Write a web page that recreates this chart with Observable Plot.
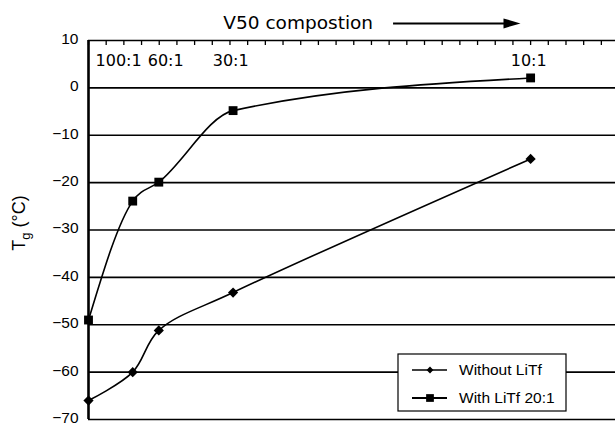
<!DOCTYPE html>
<html>
<head>
<meta charset="utf-8">
<script src="https://cdn.jsdelivr.net/npm/d3@7"></script>
<script src="https://cdn.jsdelivr.net/npm/@observablehq/plot@0.6"></script>
<style>
  body { margin: 0; background: #fff; }
  #chart svg { display: block; }
</style>
</head>
<body>
<div id="chart"></div>
<script>
// Salt content (LiTf per V50 unit) and glass transition temperatures
const saltRatio = [0, 0.01, 0.0159, 0.0327, 0.1];
const withoutLiTf = [-66, -60, -51.2, -43.2, -15];
const withLiTf = [-49, -23.9, -19.9, -4.8, 2.1];
const seriesNames = ["Without LiTf", "With LiTf 20:1"];

// Composition annotations along the top of the frame
const compLabels = ["100:1", "60:1", "30:1", "10:1"];
const compLabelX = [0.0016, 0.0134, 0.0281, 0.0955];
const compLabelY = 5.8;

const yTicks = [10, 0, -10, -20, -30, -40, -50, -60, -70];
const topTicks = d3.range(0, 30).map(i => i * 0.004);

const title = "V50 compostion";
const titleX = 0.0305, arrowX1 = 0.069, arrowX2 = 0.0977, headerY = 13.6;

const rows = saltRatio.map((x, i) => ({x, without: withoutLiTf[i], with: withLiTf[i]}));

const fmt = d => d < 0 ? "\u2212" + Math.abs(d) : String(d);

// Filled, elongated arrowhead pointing right
const arrowHead = {
  draw(ctx) {
    ctx.moveTo(8, 0);
    ctx.lineTo(-9, -5);
    ctx.lineTo(-9, 5);
    ctx.closePath();
  }
};

const chart = Plot.plot({
  width: 615,
  height: 425,
  marginLeft: 88,
  marginRight: 0,
  marginTop: 40,
  marginBottom: 6,
  x: {domain: [0, 0.1192], axis: null},
  y: {domain: [-70, 10], axis: null},
  style: {fontFamily: "'Liberation Sans', Arial, sans-serif", fontSize: "15.5px", background: "#fff", color: "#000"},
  marks: [
    Plot.ruleY(yTicks, {stroke: "#000", strokeWidth: 1.7}),
    Plot.axisY({ticks: yTicks, tickSize: 0, tickPadding: 10, tickFormat: fmt, label: null, fontSize: 15.5, dy: -1.5}),
    Plot.ruleX(topTicks, {x: d => d, y1: 10, y2: 8.95, stroke: "#000", strokeWidth: 1.3}),
    Plot.ruleX([0], {stroke: "#000", strokeWidth: 2.6}),
    Plot.text(compLabels, {
      x: (d, i) => compLabelX[i], y: compLabelY, text: d => d,
      textAnchor: "start", fontFamily: "'DejaVu Sans', sans-serif", fontSize: 16, fill: "#000"
    }),
    Plot.line(rows, {x: "x", y: "with", curve: "monotone-x", stroke: "#000", strokeWidth: 1.6}),
    Plot.line(rows, {x: "x", y: "without", curve: "catmull-rom", stroke: "#000", strokeWidth: 1.6}),
    Plot.dot(rows, {x: "x", y: "with", symbol: "square", r: 5, fill: "#000", stroke: null}),
    Plot.dot(rows, {x: "x", y: "without", symbol: "diamond2", r: 4.6, fill: "#000", stroke: null}),
    // Header: composition direction
    Plot.text([title], {x: titleX, y: headerY, text: d => d, textAnchor: "start",
      fontFamily: "'DejaVu Sans', sans-serif", fontSize: 18.5, fill: "#000"}),
    Plot.ruleY([headerY], {x1: arrowX1, x2: arrowX2 - 0.002, stroke: "#000", strokeWidth: 2}),
    Plot.dot([headerY], {x: arrowX2 - 0.0018, y: d => d, symbol: arrowHead, fill: "#000", stroke: null})
  ]
});

const svg = d3.select(chart);

// Y axis label: T with subscript g
const yLab = svg.append("text")
  .attr("transform", "translate(25,223) rotate(-90)")
  .attr("text-anchor", "middle")
  .attr("font-family", "'Liberation Sans', Arial, sans-serif")
  .attr("font-size", 18)
  .attr("fill", "#000");
yLab.append("tspan").text("T");
yLab.append("tspan").attr("font-size", 13).attr("dy", 5).text("g");
yLab.append("tspan").attr("dy", -5).text(" (\u00b0C)");

// Legend box
const lg = svg.append("g").attr("transform", "translate(398,354)");
lg.append("rect").attr("width", 168).attr("height", 57)
  .attr("fill", "#fff").attr("stroke", "#000").attr("stroke-width", 1.2);
const symbols = [d3.symbolDiamond2, d3.symbolSquare];
const symSizes = [30, 60];
seriesNames.forEach((name, i) => {
  const cy = 16 + i * 28;
  lg.append("line").attr("x1", 14).attr("x2", 49).attr("y1", cy).attr("y2", cy)
    .attr("stroke", "#000").attr("stroke-width", i === 0 ? 1.5 : 2);
  lg.append("path").attr("d", d3.symbol(symbols[i], symSizes[i])())
    .attr("transform", `translate(32,${cy})`).attr("fill", "#000");
  lg.append("text").attr("x", 61).attr("y", cy).attr("dy", "0.35em")
    .attr("text-anchor", "start")
    .attr("font-family", "'Liberation Sans', Arial, sans-serif")
    .attr("font-size", 15.5).attr("fill", "#000").text(name);
});

document.getElementById("chart").appendChild(chart);
</script>
</body>
</html>
